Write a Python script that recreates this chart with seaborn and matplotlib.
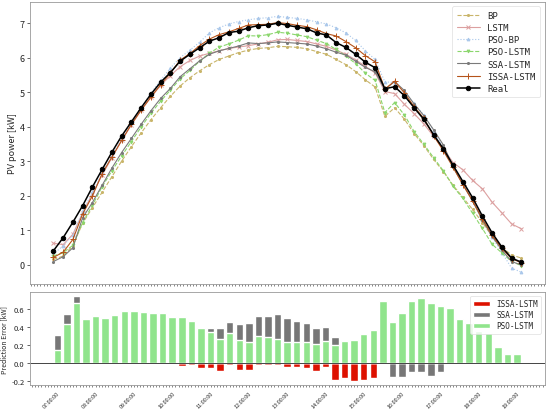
import numpy as np
import pandas as pd
import matplotlib
matplotlib.use("Agg")
import matplotlib.pyplot as plt
import seaborn as sns
from matplotlib.ticker import MultipleLocator

sns.set_theme(style="white")
plt.rcParams['font.family'] = ['Noto Sans CJK SC', 'DejaVu Sans']

# 15-minute steps from 07:00 to 19:00
hour_labels = ["07:00:00", "08:00:00", "09:00:00", "10:00:00", "11:00:00", "12:00:00", "13:00:00",
               "14:00:00", "15:00:00", "16:00:00", "17:00:00", "18:00:00", "19:00:00"]
steps_per_hour = 4
n_points = 49

real = [0.40, 0.78, 1.23, 1.71, 2.25, 2.76, 3.26, 3.73, 4.14, 4.55, 4.94, 5.29, 5.57, 5.90, 6.10, 6.29,
        6.48, 6.58, 6.73, 6.77, 6.87, 6.93, 6.95, 7.00, 6.94, 6.89, 6.84, 6.72, 6.66, 6.44, 6.30, 6.10,
        5.87, 5.71, 5.10, 5.16, 4.90, 4.55, 4.21, 3.77, 3.36, 2.88, 2.41, 1.94, 1.41, 0.92, 0.51, 0.19, 0.07]
issa = [0.21, 0.36, 0.73, 1.47, 1.99, 2.64, 3.12, 3.60, 4.07, 4.48, 4.86, 5.22, 5.55, 5.93, 6.12, 6.35,
        6.54, 6.67, 6.75, 6.85, 6.95, 6.96, 6.97, 7.02, 6.99, 6.94, 6.90, 6.81, 6.70, 6.63, 6.47, 6.29,
        6.06, 5.88, 5.09, 5.32, 4.98, 4.58, 4.24, 3.74, 3.30, 2.82, 2.32, 1.85, 1.33, 0.85, 0.47, 0.17, 0.06]
ssa = [0.09, 0.23, 0.49, 1.36, 1.80, 2.30, 2.80, 3.25, 3.66, 4.07, 4.46, 4.82, 5.11, 5.45, 5.68, 5.91,
       6.10, 6.20, 6.27, 6.34, 6.43, 6.41, 6.43, 6.46, 6.44, 6.42, 6.40, 6.34, 6.26, 6.16, 6.08, 5.90,
       5.72, 5.59, 5.08, 5.31, 5.05, 4.66, 4.32, 3.91, 3.47, 2.83, 2.33, 1.84, 1.29, 0.82, 0.42, 0.09, -0.01]
pso_lstm = [0.25, 0.35, 0.56, 1.22, 1.72, 2.26, 2.72, 3.15, 3.57, 3.99, 4.39, 4.74, 5.06, 5.39, 5.63, 5.90,
            6.13, 6.31, 6.40, 6.51, 6.64, 6.63, 6.67, 6.74, 6.71, 6.66, 6.61, 6.51, 6.41, 6.24, 6.05, 5.83,
            5.55, 5.34, 4.41, 4.70, 4.34, 3.86, 3.49, 3.10, 2.72, 2.27, 1.92, 1.49, 1.05, 0.59, 0.34, 0.09, -0.03]
bp = [0.15, 0.25, 0.55, 1.20, 1.65, 2.10, 2.55, 3.00, 3.42, 3.82, 4.20, 4.55, 4.88, 5.18, 5.42, 5.62,
      5.80, 5.95, 6.05, 6.15, 6.22, 6.27, 6.29, 6.33, 6.32, 6.30, 6.26, 6.18, 6.10, 5.95, 5.80, 5.60,
      5.36, 5.15, 4.30, 4.55, 4.22, 3.80, 3.45, 3.05, 2.70, 2.30, 1.95, 1.60, 1.22, 0.82, 0.50, 0.28, 0.19]
pso_bp = [0.30, 0.55, 0.85, 1.55, 2.10, 2.65, 3.15, 3.65, 4.10, 4.55, 4.97, 5.35, 5.70, 6.00, 6.22, 6.45,
          6.72, 6.87, 6.98, 7.05, 7.10, 7.14, 7.16, 7.20, 7.17, 7.14, 7.10, 7.04, 6.98, 6.87, 6.72, 6.50,
          6.20, 5.95, 5.30, 5.28, 5.00, 4.68, 4.33, 3.88, 3.40, 2.88, 2.38, 1.88, 1.32, 0.80, 0.35, -0.10, -0.22]
lstm = [0.62, 0.58, 0.88, 1.50, 2.05, 2.60, 3.10, 3.60, 4.05, 4.48, 4.85, 5.20, 5.48, 5.74, 5.92, 6.05,
        6.13, 6.20, 6.27, 6.31, 6.35, 6.40, 6.45, 6.52, 6.53, 6.50, 6.47, 6.40, 6.33, 6.22, 6.10, 5.94,
        5.75, 5.56, 5.02, 4.96, 4.65, 4.38, 4.08, 3.72, 3.36, 2.96, 2.75, 2.44, 2.20, 1.81, 1.50, 1.18, 1.04]

# prediction errors (bars)
err_issa = [0.19, 0.42, 0.50, 0.24, 0.26, 0.12, 0.14, 0.13, 0.07, 0.07, 0.08, 0.07, 0.02, -0.03, -0.02, -0.06,
            -0.06, -0.09, -0.02, -0.08, -0.08, -0.025, -0.02, -0.02, -0.05, -0.05, -0.06, -0.09, -0.04, -0.19,
            -0.17, -0.195, -0.19, -0.17, 0.01, -0.165, -0.08, -0.03, -0.03, 0.03, 0.06, 0.06, 0.09, 0.09, 0.08,
            0.07, 0.04, 0.02, 0.01]
err_ssa = [0.31, 0.55, 0.745, 0.35, 0.53, 0.45, 0.46, 0.48, 0.48, 0.48, 0.47, 0.46, 0.45, 0.44, 0.42, 0.38,
           0.385, 0.385, 0.46, 0.43, 0.44, 0.52, 0.525, 0.54, 0.50, 0.47, 0.445, 0.39, 0.40, 0.285, 0.22, 0.20,
           0.15, 0.12, 0.02, -0.155, -0.155, -0.105, -0.105, -0.14, -0.105, 0.05, 0.08, 0.10, 0.12, 0.10, 0.09,
           0.08, 0.06]
err_pso = [0.15, 0.43, 0.67, 0.485, 0.525, 0.50, 0.535, 0.58, 0.575, 0.563, 0.552, 0.552, 0.515, 0.515, 0.47,
           0.385, 0.35, 0.27, 0.33, 0.26, 0.23, 0.30, 0.285, 0.265, 0.23, 0.23, 0.23, 0.21, 0.25, 0.20, 0.24,
           0.255, 0.32, 0.37, 0.69, 0.46, 0.56, 0.69, 0.72, 0.67, 0.64, 0.615, 0.49, 0.45, 0.36, 0.33, 0.175,
           0.10, 0.10]

pos = np.arange(n_points)

fig = plt.figure(figsize=(5.5, 4.1), dpi=100)
ax1 = fig.add_axes([0.0545, 0.305, 0.936, 0.688])
ax2 = fig.add_axes([0.0545, 0.0585, 0.936, 0.2268])

# ---- top: power curves ----
line_styles = [
    ("BP", bp, "#c9b56a", "--", ".", 3),
    ("LSTM", lstm, "#dca0a0", "-", "x", 2.2),
    ("PSO-BP", pso_bp, "#a9c7ea", ":", "^", 2),
    ("PSO-LSTM", pso_lstm, "#8ad66c", "--", "v", 2),
    ("SSA-LSTM", ssa, "#7a7a7a", "-", ".", 3),
    ("ISSA-LSTM", issa, "#b5531a", "-", "+", 4),
    ("Real", real, "black", "-", "o", 3.2),
]
for name, vals, col, ls, mk, ms in line_styles:
    lw = 1.1 if name == "Real" else 0.8
    sns.lineplot(x=pos, y=vals, ax=ax1, label=name, color=col, linestyle=ls, linewidth=lw,
                 marker=mk, markersize=ms, markeredgecolor=col, markerfacecolor=col,
                 markeredgewidth=0.7)

ax1.set_xlim(-2.4, 50.4)
ax1.set_ylim(-0.56, 7.62)
ax1.set_ylabel("PV power [kW]", fontsize=6.5, labelpad=2)
ax1.set_xticks(np.arange(0, n_points, steps_per_hour))
ax1.set_xticklabels([])
ax1.xaxis.set_minor_locator(MultipleLocator(1 / 3))
ax1.tick_params(axis="x", which="both", bottom=True, length=1.5, width=0.5, color="#555555")
ax1.tick_params(axis="y", labelsize=6.5, left=True, length=2, width=0.5, pad=2)
leg1 = ax1.legend(loc="upper right", frameon=True, handlelength=2.6,
                  labelspacing=0.35, borderpad=0.5, prop={"family": "DejaVu Sans Mono", "size": 6.5})
leg1.get_frame().set_edgecolor("#dddddd")
leg1.get_frame().set_linewidth(0.6)

# ---- bottom: prediction errors ----
bar_specs = [("ISSA-LSTM", err_issa, "#dd1100"),
             ("SSA-LSTM", err_ssa, "#777777"),
             ("PSO-LSTM", err_pso, "#90e48c")]
for name, vals, col in bar_specs:
    sns.barplot(x=pos, y=vals, ax=ax2, color=col, saturation=1, width=0.78, label=name)

ax2.axhline(0, color="#444444", linewidth=0.7)
ax2.set_xlim(-2.85, 50.9)
ax2.set_ylim(-0.245, 0.79)
ax2.set_yticks([-0.2, 0.0, 0.2, 0.4, 0.6])
ax2.set_yticklabels(["-0.2", "0.0", "0.2", "0.4", "0.6"])
ax2.set_ylabel("Prediction Error [kW]", fontsize=5, labelpad=2)
ax2.set_xticks(np.arange(0, n_points, steps_per_hour))
ax2.set_xticklabels(hour_labels, rotation=45, ha="right", rotation_mode="anchor", fontsize=4)
ax2.xaxis.set_minor_locator(MultipleLocator(1 / 3))
ax2.tick_params(axis="x", which="both", bottom=True, length=1.5, width=0.5, color="#555555", pad=2)
ax2.tick_params(axis="y", labelsize=5.5, left=True, length=2, width=0.5, pad=2)
leg2 = ax2.legend(loc="upper right", frameon=True, handlelength=2.2, labelspacing=0.3,
                  borderpad=0.4, prop={"family": "DejaVu Sans Mono", "size": 5.5})
leg2.get_frame().set_edgecolor("#dddddd")
leg2.get_frame().set_linewidth(0.6)

for ax in (ax1, ax2):
    for sp in ax.spines.values():
        sp.set_color("#999999")
        sp.set_linewidth(0.6)

fig.savefig("out.png", dpi=100)
